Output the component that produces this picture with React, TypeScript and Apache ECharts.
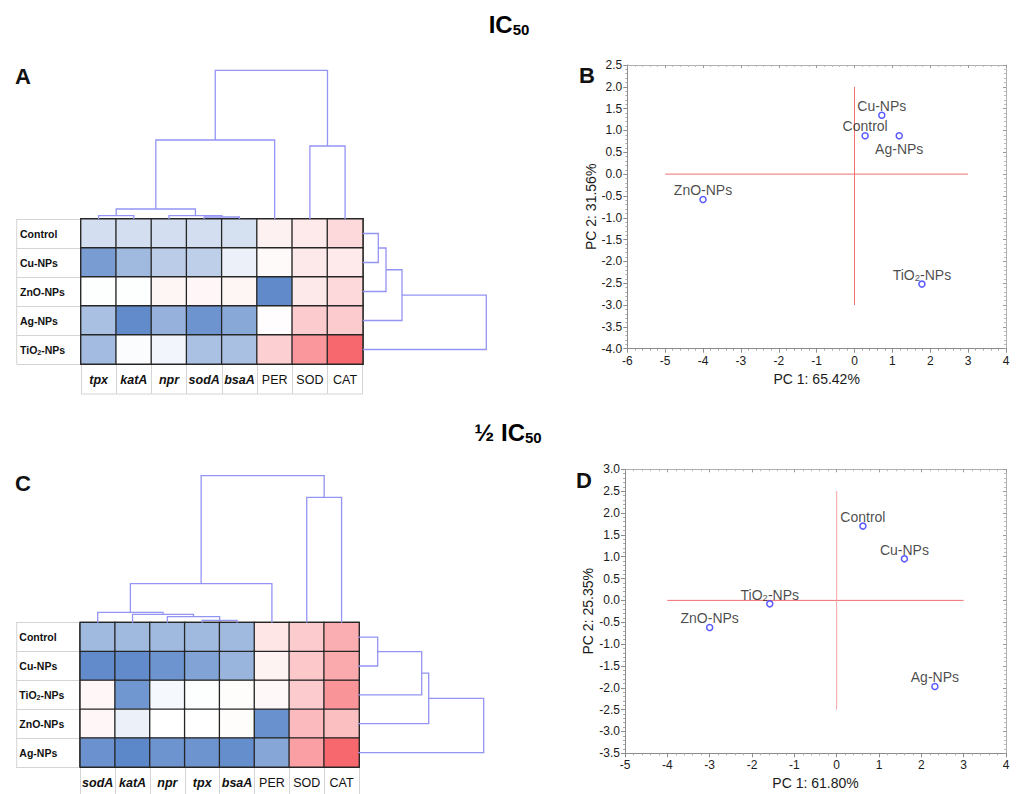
import React, { useEffect, useRef } from "react";
import * as echarts from "echarts";

const FONT = "'Liberation Sans', Arial, sans-serif";

// ---------- Panel A (IC50 heatmap) ----------
const genesA = ["tpx", "katA", "npr", "sodA", "bsaA", "PER", "SOD", "CAT"];
const treatA = ["Control", "Cu-NPs", "ZnO-NPs", "Ag-NPs", "TiO2-NPs"];
const valuesA = [
  [-0.23, -0.23, -0.23, -0.23, -0.22, 0.08, 0.12, 0.22],
  [-0.7, -0.5, -0.36, -0.34, -0.1, 0.03, 0.13, 0.12],
  [-0.01, -0.01, 0.06, 0.05, 0.06, -0.83, 0.13, 0.22],
  [-0.45, -0.82, -0.55, -0.76, -0.62, 0.01, 0.3, 0.3],
  [-0.48, -0.02, -0.07, -0.44, -0.45, 0.27, 0.6, 0.88],
];
// merges [a, b, height]; leaves are 0..n-1 in display order, clusters n, n+1, ...
const colTreeA = [[3, 4, 2], [0, 1, 3.3], [2, 8, 3.3], [9, 10, 10], [11, 5, 79], [6, 7, 73], [12, 13, 148.7]];
const rowTreeA = [[0, 1, 15.3], [5, 2, 23], [6, 3, 39], [7, 4, 123.3]];

// ---------- Panel B (IC50 PCA) ----------
const pcaBNames = ["Cu-NPs", "Control", "Ag-NPs", "ZnO-NPs", "TiO2-NPs"];
const pcaBX = [0.72, 0.28, 1.18, -4.0, 1.78];
const pcaBY = [1.35, 0.88, 0.88, -0.58, -2.52];
const pcaBHLine = [[-5, 0], [3, 0]];
const pcaBVLine = [[0, -3], [0, 2]];

// ---------- Panel C (1/2 IC50 heatmap) ----------
const genesC = ["sodA", "katA", "npr", "tpx", "bsaA", "PER", "SOD", "CAT"];
const treatC = ["Control", "Cu-NPs", "TiO2-NPs", "ZnO-NPs", "Ag-NPs"];
const valuesC = [
  [-0.5, -0.5, -0.5, -0.5, -0.5, 0.15, 0.3, 0.47],
  [-0.82, -0.82, -0.76, -0.65, -0.53, 0.07, 0.32, 0.5],
  [0.05, -0.74, -0.05, -0.01, 0.02, 0.04, 0.3, 0.62],
  [0.05, -0.1, 0.0, 0.0, 0.02, -0.78, 0.4, 0.37],
  [-0.77, -0.85, -0.76, -0.76, -0.8, -0.63, 0.55, 0.88],
];
const colTreeC = [[3, 4, 2.4], [2, 8, 6], [1, 9, 8.4], [0, 10, 10.4], [11, 5, 39], [6, 7, 125.4], [12, 13, 147]];
const rowTreeC = [[0, 1, 19.4], [5, 2, 63.4], [6, 3, 70.4], [7, 4, 125.4]];

// ---------- Panel D (1/2 IC50 PCA) ----------
const pcaDNames = ["Control", "Cu-NPs", "TiO2-NPs", "ZnO-NPs", "Ag-NPs"];
const pcaDX = [0.62, 1.6, -1.58, -3.0, 2.32];
const pcaDY = [1.7, 0.95, -0.08, -0.62, -1.97];
const pcaDHLine = [[-4, 0], [3, 0]];
const pcaDVLine = [[0, -2.5], [0, 2.5]];

const italicGenes = new Set(["tpx", "katA", "npr", "sodA", "bsaA"]);

function dendroLinks(n: number, merges: number[][]) {
  const pos: number[] = [];
  const hgt: number[] = [];
  for (let i = 0; i < n; i++) {
    pos.push(i);
    hgt.push(0);
  }
  const links: number[][][] = [];
  merges.forEach(([a, b, h]) => {
    links.push([[pos[a], hgt[a]], [pos[a], h], [pos[b], h], [pos[b], hgt[b]]]);
    pos.push((pos[a] + pos[b]) / 2);
    hgt.push(h);
  });
  return links;
}

function dendroSeries(links: number[][][], idx: number, horizontal: boolean) {
  return {
    type: "custom",
    xAxisIndex: idx,
    yAxisIndex: idx,
    silent: true,
    clip: false,
    data: links.map((l) => (horizontal ? [l[1][1], (l[1][0] + l[2][0]) / 2] : [(l[1][0] + l[2][0]) / 2, l[1][1]])),
    renderItem: (params: any, api: any) => {
      const l = links[params.dataIndex];
      const pts = l.map(([p, h]) => (horizontal ? api.coord([h, p]) : api.coord([p, h])));
      return {
        type: "polyline",
        shape: { points: pts },
        style: { stroke: "#9494f4", lineWidth: 1.3, fill: null },
      };
    },
  };
}

function heatData(values: number[][]) {
  const out: number[][] = [];
  values.forEach((row, r) => row.forEach((v, c) => out.push([c, r, v])));
  return out;
}

const rowLabelFmt = (v: string) => (v === "TiO2-NPs" ? "{b|TiO}{s|2}{b|-NPs}" : `{b|${v}}`);
const rowRich = {
  b: { fontSize: 10.5, fontWeight: "bold", fontFamily: FONT, color: "#111", lineHeight: 12 },
  s: { fontSize: 7, fontWeight: "bold", fontFamily: FONT, color: "#111", verticalAlign: "bottom", lineHeight: 5 },
};
const colLabelFmt = (v: string) => (italicGenes.has(v) ? `{i|${v}}` : `{n|${v}}`);
const colRich = {
  i: { fontSize: 12.5, fontWeight: "bold", fontStyle: "italic", fontFamily: FONT, color: "#111" },
  n: { fontSize: 12.5, fontFamily: FONT, color: "#111" },
};

function heatXAxis(gridIndex: number, data: string[]) {
  return {
    gridIndex,
    type: "category",
    data,
    position: "bottom",
    axisLine: { show: false },
    axisTick: { show: true, length: 30, interval: 0, lineStyle: { color: "#d4d4d4", width: 1 } },
    axisLabel: { interval: 0, margin: 9, formatter: colLabelFmt, rich: colRich },
    splitLine: { show: false },
  };
}
function heatYAxis(gridIndex: number, data: string[]) {
  return {
    gridIndex,
    type: "category",
    data,
    inverse: true,
    axisLine: { show: false },
    axisTick: { show: true, length: 64.3, interval: 0, lineStyle: { color: "#d4d4d4", width: 1 } },
    axisLabel: { interval: 0, margin: 61, align: "left", formatter: rowLabelFmt, rich: rowRich },
    splitLine: { show: false },
  };
}
const hidden = (gridIndex: number, min: number, max: number, inverse = false) => ({
  gridIndex,
  type: "value",
  min,
  max,
  inverse,
  show: false,
  splitLine: { show: false },
});

const axisGray = "#8c8c8c";
function pcaX(gridIndex: number, min: number, max: number, name: string) {
  return [
    {
      gridIndex,
      type: "value",
      min,
      max,
      interval: 1,
      position: "bottom",
      axisLine: { show: true, onZero: false, lineStyle: { color: axisGray } },
      axisTick: { show: true, length: 4, lineStyle: { color: axisGray } },
      minorTick: { show: true, splitNumber: 5, length: 2, lineStyle: { color: "#aaa" } },
      splitLine: { show: false },
      axisLabel: { color: "#1a1a1a", fontSize: 12, fontFamily: FONT, margin: 6 },
      name,
      nameLocation: "middle",
      nameGap: 23,
      nameTextStyle: { color: "#1a1a1a", fontSize: 14, fontFamily: FONT },
    },
    {
      gridIndex,
      type: "value",
      min,
      max,
      interval: 1,
      position: "top",
      axisLine: { show: true, onZero: false, lineStyle: { color: "#b0b0b0" } },
      axisTick: { show: true, inside: true, length: 3, lineStyle: { color: "#999" } },
      minorTick: { show: true, splitNumber: 5, length: 2, lineStyle: { color: "#bbb" } },
      splitLine: { show: false },
      axisLabel: { show: false },
    },
  ];
}
function pcaY(gridIndex: number, min: number, max: number, name: string) {
  return [
    {
      gridIndex,
      type: "value",
      min,
      max,
      interval: 0.5,
      position: "left",
      axisLine: { show: true, onZero: false, lineStyle: { color: axisGray } },
      axisTick: { show: true, length: 4, lineStyle: { color: axisGray } },
      minorTick: { show: true, splitNumber: 5, length: 2, lineStyle: { color: "#aaa" } },
      splitLine: { show: false },
      axisLabel: { color: "#1a1a1a", fontSize: 12, fontFamily: FONT, margin: 5, formatter: (v: number) => v.toFixed(1) },
      name,
      nameLocation: "middle",
      nameGap: 29,
      nameTextStyle: { color: "#1a1a1a", fontSize: 14, fontFamily: FONT },
    },
    {
      gridIndex,
      type: "value",
      min,
      max,
      interval: 0.5,
      position: "right",
      axisLine: { show: true, onZero: false, lineStyle: { color: "#b0b0b0" } },
      axisTick: { show: true, inside: true, length: 3, lineStyle: { color: "#999" } },
      minorTick: { show: true, splitNumber: 5, length: 2, lineStyle: { color: "#bbb" } },
      splitLine: { show: false },
      axisLabel: { show: false },
    },
  ];
}

const ptRich = {
  a: { fontSize: 14, color: "#1a1a1a", fontFamily: FONT, lineHeight: 16 },
  s: { fontSize: 9.5, color: "#1a1a1a", fontFamily: FONT, verticalAlign: "bottom", lineHeight: 6 },
};
function pcaSeries(idx: number, names: string[], xs: number[], ys: number[], below: Set<string>, hLine: number[][], vLine: number[][], vColor: string) {
  return [
    { type: "line", xAxisIndex: idx, yAxisIndex: idx, data: hLine, symbol: "none", lineStyle: { color: "#f07070", width: 1 }, silent: true, z: 1 },
    { type: "line", xAxisIndex: idx, yAxisIndex: idx, data: vLine, symbol: "none", lineStyle: { color: vColor, width: 1 }, silent: true, z: 1 },
    {
      type: "scatter",
      xAxisIndex: idx,
      yAxisIndex: idx,
      symbol: "circle",
      symbolSize: 6,
      z: 3,
      itemStyle: { color: "#fff", borderColor: "#2f2fff", borderWidth: 1.5 },
      data: names.map((n, i) => ({
        name: n,
        value: [xs[i], ys[i]],
        label: below.has(n) ? { position: "bottom", distance: 2 } : { position: "top", distance: -2.5 },
      })),
      label: {
        show: true,
        formatter: (p: any) => (p.name === "TiO2-NPs" ? "{a|TiO}{s|2}{a|-NPs}" : `{a|${p.name}}`),
        rich: ptRich,
      },
      emphasis: { disabled: true },
    },
  ];
}

const letter = (t: string, x: number, y: number) => ({
  type: "text",
  x,
  y,
  style: { text: t, fontSize: 22, fontWeight: "bold", fontFamily: FONT, fill: "#111" },
});
const titleRich = {
  a: { fontSize: 24, fontWeight: "bold", fontFamily: FONT, color: "#111", lineHeight: 26 },
  b: { fontSize: 15, fontWeight: "bold", fontFamily: FONT, color: "#111", verticalAlign: "bottom", lineHeight: 12 },
};

export default function App() {
  const ref = useRef<HTMLDivElement>(null);
  useEffect(() => {
    if (!ref.current) return;
    const chart = echarts.init(ref.current, null, { renderer: "svg" });
    const grids = [
      { left: 81, top: 219, width: 281.7, height: 145, show: true, borderColor: "#1e1e1e", borderWidth: 2 },
      { left: 81, top: 60, width: 281.7, height: 159 },
      { left: 363, top: 219, width: 130, height: 145 },
      { left: 627.3, top: 65, width: 378.7, height: 283.7 },
      { left: 80.3, top: 622.7, width: 278.7, height: 144.3, show: true, borderColor: "#1e1e1e", borderWidth: 2 },
      { left: 80.3, top: 465, width: 278.7, height: 157.7 },
      { left: 358.3, top: 622.7, width: 130, height: 144.3 },
      { left: 625, top: 469.3, width: 381, height: 284 },
    ].map((g) => ({ containLabel: false, outerBoundsMode: "none", ...g }));

    const [bx0, bx1] = pcaX(3, -6, 4, "PC 1: 65.42%");
    const [by0, by1] = pcaY(3, -4, 2.5, "PC 2: 31.56%");
    const [dx0, dx1] = pcaX(7, -5, 4, "PC 1: 61.80%");
    const [dy0, dy1] = pcaY(7, -3.5, 3, "PC 2: 25.35%");

    const xAxis = [
      heatXAxis(0, genesA),
      hidden(1, -0.5, 7.5),
      hidden(2, 0, 130),
      bx0,
      heatXAxis(4, genesC),
      hidden(5, -0.5, 7.5),
      hidden(6, 0, 130),
      dx0,
      bx1,
      dx1,
    ];
    const yAxis = [
      heatYAxis(0, treatA),
      hidden(1, 0, 159),
      hidden(2, -0.5, 4.5, true),
      by0,
      heatYAxis(4, treatC),
      hidden(5, 0, 157.7),
      hidden(6, -0.5, 4.5, true),
      dy0,
      by1,
      dy1,
    ];

    const heatStyle = { borderColor: "#262626", borderWidth: 1.3 };
    const series: any[] = [
      { type: "heatmap", xAxisIndex: 0, yAxisIndex: 0, data: heatData(valuesA), itemStyle: heatStyle, emphasis: { disabled: true } },
      { type: "heatmap", xAxisIndex: 4, yAxisIndex: 4, data: heatData(valuesC), itemStyle: heatStyle, emphasis: { disabled: true } },
      dendroSeries(dendroLinks(genesA.length, colTreeA), 1, false),
      dendroSeries(dendroLinks(treatA.length, rowTreeA), 2, true),
      dendroSeries(dendroLinks(genesC.length, colTreeC), 5, false),
      dendroSeries(dendroLinks(treatC.length, rowTreeC), 6, true),
      ...pcaSeries(3, pcaBNames, pcaBX, pcaBY, new Set(["Ag-NPs"]), pcaBHLine, pcaBVLine, "#f07070"),
      ...pcaSeries(7, pcaDNames, pcaDX, pcaDY, new Set<string>(), pcaDHLine, pcaDVLine, "#f4a3a3"),
    ];

    const lblLine = (x1: number, y1: number, x2: number, y2: number) => ({
      type: "line",
      shape: { x1, y1, x2, y2 },
      style: { stroke: "#d4d4d4", lineWidth: 1 },
    });

    chart.setOption({
      animation: false,
      textStyle: { fontFamily: FONT },
      grid: grids,
      xAxis,
      yAxis,
      visualMap: {
        type: "continuous",
        show: false,
        min: -1,
        max: 1,
        seriesIndex: [0, 1],
        inRange: { color: ["#3f72bf", "#ffffff", "#f5525a"] },
      },
      series,
      graphic: [
        {
          type: "text",
          x: 509,
          y: 24,
          style: { text: "{a|IC}{b|50}", rich: titleRich, align: "center", verticalAlign: "middle" },
        },
        {
          type: "text",
          x: 508,
          y: 432,
          style: { text: "{a|½ IC}{b|50}", rich: titleRich, align: "center", verticalAlign: "middle" },
        },
        letter("A", 15, 65),
        letter("B", 579, 64),
        letter("C", 15, 472),
        letter("D", 576, 469),
        lblLine(16.7, 219, 16.7, 364),
        lblLine(81, 394, 362.7, 394),
        lblLine(16.7, 622.7, 16.7, 767),
      ],
    });
    return () => chart.dispose();
  }, []);
  return <div ref={ref} style={{ position: "absolute", left: 0, top: 0, width: 1020, height: 794 }} />;
}
